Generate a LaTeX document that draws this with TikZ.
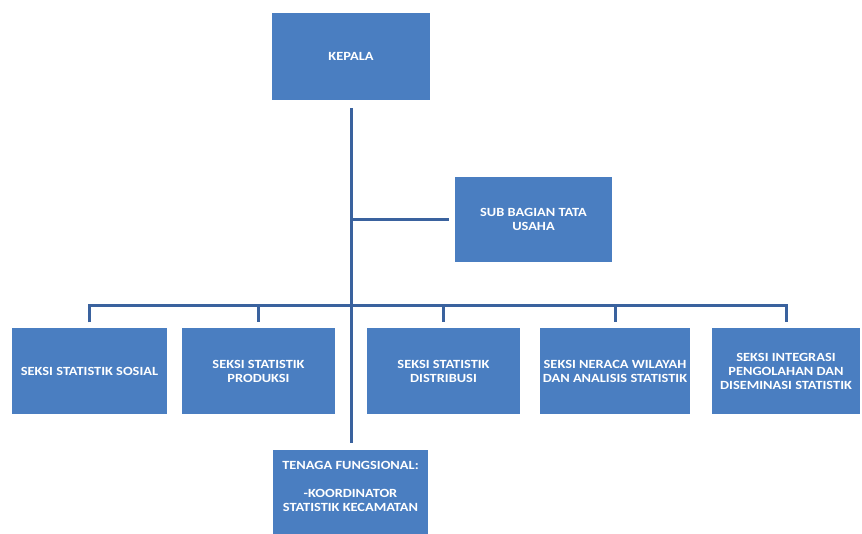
\documentclass[tikz,border=0pt]{standalone}
\usepackage{fontspec}
\setmainfont{Carlito}
\usetikzlibrary{calc}
\definecolor{boxblue}{RGB}{74,126,193}
\definecolor{lineblue}{RGB}{58,98,158}

\begin{document}
\begin{tikzpicture}[x=1pt, y=-1pt,
unit/.style={fill=boxblue, text=white, align=center, inner sep=1pt,
  font=\bfseries\fontsize{12.5}{14}\selectfont\addfontfeature{FakeStretch=1.15}, minimum height=85pt},
link/.style={draw=lineblue, line width=3pt}]
\useasboundingbox (0,0) rectangle (862,534);
\node[unit, minimum width=158pt, minimum height=87pt] (kepala) at (351,56.5) {KEPALA};
\node[unit, minimum width=157pt] (tu) at (533.5,219.5) {SUB BAGIAN TATA\\USAHA};
\node[unit, minimum width=155pt] (sosial) at (89.5,371) {SEKSI STATISTIK SOSIAL};
\node[unit, minimum width=153pt] (produksi) at (258.5,371) {SEKSI STATISTIK\\PRODUKSI};
\node[unit, minimum width=153pt] (distribusi) at (443.5,371) {SEKSI STATISTIK\\DISTRIBUSI};
\node[unit, minimum width=150pt] (neraca) at (615,371) {SEKSI NERACA WILAYAH\\DAN ANALISIS STATISTIK};
\node[unit, minimum width=148pt] (integrasi) at (786,371) {SEKSI INTEGRASI\\PENGOLAHAN DAN\\DISEMINASI STATISTIK};
\node[unit, minimum width=155pt, minimum height=86pt] (fungsional) at (350.5,493)
  {TENAGA FUNGSIONAL:\\[14pt]-KOORDINATOR\\STATISTIK KECAMATAN\\~};
\coordinate (bus) at (0,306);
\draw[link, shorten <=8pt, shorten >=7pt] (kepala.south) -- (kepala.south |- fungsional.north);
\draw[link, shorten >=6pt] (kepala.south |- tu.west) -- (tu.west);
\draw[link, shorten <=6pt, shorten >=6pt] (sosial.north) -- (sosial.north |- bus) -| (integrasi.north);
\foreach \n in {produksi,distribusi,neraca}
  \draw[link, shorten >=6pt] (\n.north |- bus) -- (\n.north);
\end{tikzpicture}
\end{document}
